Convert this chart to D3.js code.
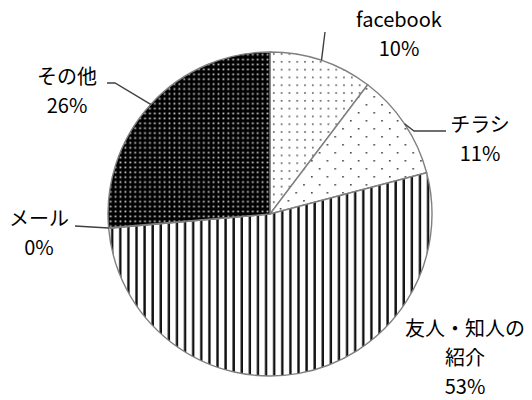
<!DOCTYPE html>
<html lang="ja">
<head>
<meta charset="UTF-8">
<title>Pie</title>
<script src="https://d3js.org/d3.v7.min.js"></script>
<style>
  body { margin: 0; background: #fff; }
  text { font-family: "Noto Sans CJK JP", "Noto Sans", sans-serif; font-size: 20px; fill: #000; }
  .leader { fill: none; stroke: #404040; stroke-width: 1.4px; }
  .slice { stroke: #7f7f7f; stroke-width: 1.4px; }
</style>
</head>
<body>
<svg width="532" height="400"></svg>
<script>
// data (clockwise from 12 o'clock)
const categories = ["facebook", "チラシ", "友人・知人の紹介", "メール", "その他"];
const values = [10.3, 10.6, 52.7, 0.05, 26.35];
// label text lines, split the way the chart wraps them
const labelLines = [["facebook"], ["チラシ"], ["友人・知人の", "紹介"], ["メール"], ["その他"]];

const svg = d3.select("svg");
const cx = 270, cy = 214, r = 162;

// fill patterns
const defs = svg.append("defs");
function pattern(id, w, h, bg) {
  const p = defs.append("pattern").attr("id", id)
    .attr("patternUnits", "userSpaceOnUse").attr("width", w).attr("height", h);
  p.append("rect").attr("width", w).attr("height", h).attr("fill", bg);
  return p;
}
let p = pattern("p0", 7.8, 7.8, "#fff");
p.append("rect").attr("x", 3).attr("y", 3).attr("width", 1.6).attr("height", 1.6).attr("fill", "#555");
p = pattern("p1", 15.6, 16, "#fff");
p.append("rect").attr("x", 2).attr("y", 2).attr("width", 1.6).attr("height", 1.6).attr("fill", "#444");
p.append("rect").attr("x", 9.8).attr("y", 10).attr("width", 1.6).attr("height", 1.6).attr("fill", "#444");
p = pattern("p2", 8.1, 10, "#fff");
p.append("rect").attr("x", 3).attr("y", 0).attr("width", 2.4).attr("height", 10).attr("fill", "#111");
p = pattern("p3", 4.9, 4.9, "#fff");
p = pattern("p4", 4.9, 4.9, "#000");
p.append("rect").attr("x", 1.5).attr("y", 1.5).attr("width", 1.8).attr("height", 1.8).attr("fill", "#c8c8c8");

const pie = d3.pie().sort(null).value(d => d)(values);
const arc = d3.arc().innerRadius(0).outerRadius(r);

const g = svg.append("g").attr("transform", `translate(${cx},${cy})`);
g.selectAll("path").data(pie).join("path")
  .attr("class", "slice")
  .attr("d", arc)
  .attr("fill", (d, i) => `url(#p${i})`);

// label layout: first baseline position and leader line bends (page coords)
const labelPos = [
  { x: 399, y: 27, pts: [[325, 32]] },
  { x: 480, y: 132, pts: [[414, 131], [446, 131]] },
  { x: 465, y: 336, pts: [] },
  { x: 39, y: 226, pts: [[75, 226]] },
  { x: 67, y: 84, pts: [[115, 83], [107, 83]] }
];

const edge = d3.arc().innerRadius(r).outerRadius(r);
pie.forEach((d, i) => {
  const lp = labelPos[i];
  const c = edge.centroid(d);
  if (lp.pts.length) {
    const pts = [[cx + c[0], cy + c[1]]].concat(lp.pts);
    svg.append("path").attr("class", "leader").attr("d", d3.line()(pts));
  }
  const lines = labelLines[i].concat([Math.round(values[i]) + "%"]);
  const t = svg.append("text").attr("text-anchor", "middle");
  lines.forEach((s, k) => {
    t.append("tspan").attr("x", lp.x).attr("y", lp.y + k * 29).text(s);
  });
});
</script>
</body>
</html>
